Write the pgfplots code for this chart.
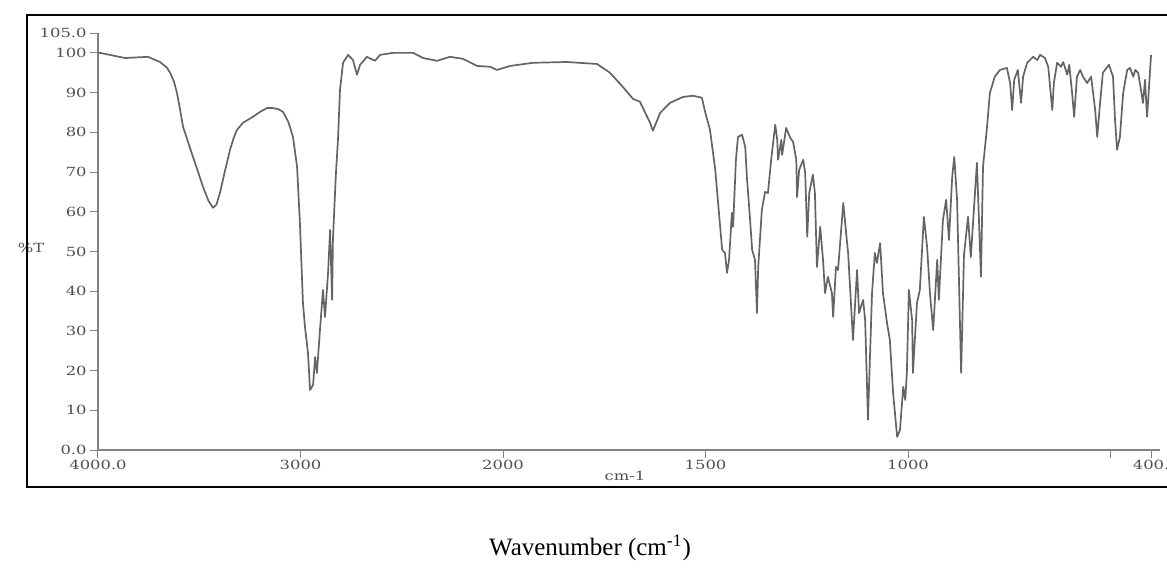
\documentclass[border=0pt]{standalone}
\usepackage{fontspec}
\setmainfont{Liberation Serif}
\newfontfamily\tickfont[FakeStretch=1.3]{DejaVu Serif}
\usepackage{pgfplots}
\pgfplotsset{compat=1.18}
\definecolor{lbl}{RGB}{80,80,80}
\definecolor{spec}{RGB}{100,100,100}
\definecolor{axl}{RGB}{130,130,130}

% spectrum, wavenumber (cm-1) vs %T
\pgfplotstableread{
wn T
4000 100.0
3990 100.0
3867 98.7
3753 99.0
3694 97.7
3660 96.3
3644 95.0
3625 92.8
3610 89.9
3595 85.8
3580 81.4
3555 77.5
3531 73.8
3505 69.9
3481 66.2
3455 62.8
3432 61.0
3415 61.8
3398 64.7
3372 70.5
3348 75.6
3330 78.6
3314 80.6
3284 82.4
3235 83.9
3195 85.3
3165 86.1
3136 86.1
3108 85.8
3086 85.1
3060 82.6
3037 78.8
3017 71.3
3003 57.2
2988 37.0
2978 31.0
2963 24.4
2953 15.1
2938 16.4
2928 23.4
2919 19.4
2904 30.2
2889 40.3
2879 33.5
2864 44.6
2854 55.4
2844 37.8
2840 52.9
2825 69.8
2815 78.1
2805 90.7
2790 97.5
2765 99.5
2741 98.2
2721 94.5
2706 97.0
2672 99.0
2632 98.0
2607 99.5
2543 100.0
2444 100.0
2395 98.7
2326 98.0
2262 99.0
2198 98.5
2128 96.7
2064 96.5
2030 95.7
1983 96.7
1926 97.5
1842 97.7
1768 97.2
1736 95.0
1704 91.4
1679 88.4
1662 87.7
1637 82.4
1630 80.4
1612 84.9
1588 87.4
1556 88.9
1531 89.2
1509 88.7
1501 85.1
1489 80.6
1476 70.5
1469 62.2
1459 50.4
1452 49.6
1447 44.6
1442 47.9
1435 59.7
1432 56.2
1425 73.1
1420 78.8
1410 79.4
1402 76.3
1398 68.8
1390 57.9
1385 50.4
1378 47.9
1373 34.5
1370 46.1
1361 60.5
1353 65.0
1346 64.7
1338 73.1
1328 81.9
1323 78.1
1321 73.1
1313 78.1
1311 74.3
1301 81.1
1291 78.6
1284 77.6
1276 73.1
1274 63.7
1269 70.5
1259 73.1
1254 69.8
1249 53.7
1244 64.7
1235 69.3
1230 64.7
1225 46.1
1217 56.2
1210 47.9
1205 39.5
1198 43.6
1188 39.5
1185 33.5
1178 46.1
1173 45.3
1160 62.2
1153 54.7
1148 49.6
1136 27.7
1126 45.3
1121 34.5
1111 37.8
1106 32.7
1099 7.6
1089 39.5
1082 49.6
1077 47.1
1069 52.1
1062 39.5
1052 32.0
1045 27.7
1037 14.4
1027 3.3
1020 5.0
1012 15.9
1007 12.6
1003 19.4
998 40.3
990 32.7
988 19.4
978 37.0
971 40.3
961 58.7
953 51.1
946 39.5
938 30.2
928 47.9
924 37.8
914 57.9
906 63.0
899 52.9
891 68.8
886 73.8
879 63.0
869 19.4
862 49.1
852 58.7
845 48.6
830 72.3
820 43.6
815 71.3
805 81.4
798 89.9
786 94.0
773 95.7
756 96.2
748 92.4
743 85.6
738 93.2
729 95.7
721 87.4
716 94.0
706 97.5
691 99.0
681 98.2
674 99.5
662 98.7
654 96.5
644 85.6
640 92.4
632 97.5
622 96.5
617 97.7
607 94.5
602 97.0
595 89.9
590 83.9
583 94.0
575 95.7
568 94.0
558 92.4
548 94.0
538 85.6
533 78.8
526 87.4
519 95.0
504 97.0
494 94.0
489 83.1
484 75.6
477 78.8
469 89.9
459 95.7
452 96.2
444 94.0
439 95.7
432 95.0
425 90.7
420 87.4
415 93.2
410 83.9
405 91.4
402 96.5
400 99.5
}\spectrum

\begin{document}
\begin{tikzpicture}
\begin{axis}[
  scale only axis,
  width=531pt,height=208.5pt,
  % split scale: 4000-2000 at half the density of 2000-400
  x coord trafo/.code={\pgfmathparse{#1>=2000 ? (4000-#1)/1000 : 2+(2000-#1)/500}},
  xmin=4000,xmax=378,
  ymin=0,ymax=105,
  axis lines=left,
  axis line style={-,draw=axl,line width=0.7pt},
  tick align=outside,
  major tick length=4pt,
  tick style={draw=axl,line width=0.5pt},
  xtick={4000,3000,2000,1500,1000,500,400},
  xticklabels={4000.0,3000,2000,1500,1000,,400.},
  ytick={0,10,20,30,40,50,60,70,80,90,100,105},
  yticklabels={0.0,10,20,30,40,50,60,70,80,90,100,105.0},
  ticklabel style={font=\tickfont\fontsize{6.3}{7.5}\selectfont,text=lbl},
  xticklabel style={inner sep=1pt},
  yticklabel style={inner sep=1.5pt},
]
\addplot[spec,line width=0.85pt,line join=round] table[x=wn,y=T] {\spectrum};
\end{axis}
\node[font=\tickfont\fontsize{6.3}{7.5}\selectfont,text=lbl] at (-33.5pt,101pt) {\%T};
\node[font=\tickfont\fontsize{6.3}{7.5}\selectfont,text=lbl] at (263.5pt,-13pt) {cm-1};
\draw[black,line width=1pt] (540pt,217.5pt) -- (-35.5pt,217.5pt) -- (-35.5pt,-18.5pt) -- (540pt,-18.5pt);
\node[font=\fontsize{12.5}{15}\selectfont] at (246pt,-49pt) {Wavenumber (cm\textsuperscript{-1})};
\pgfresetboundingbox
\useasboundingbox (-49pt,-62pt) rectangle (534.5pt,225pt);
\end{tikzpicture}
\end{document}
